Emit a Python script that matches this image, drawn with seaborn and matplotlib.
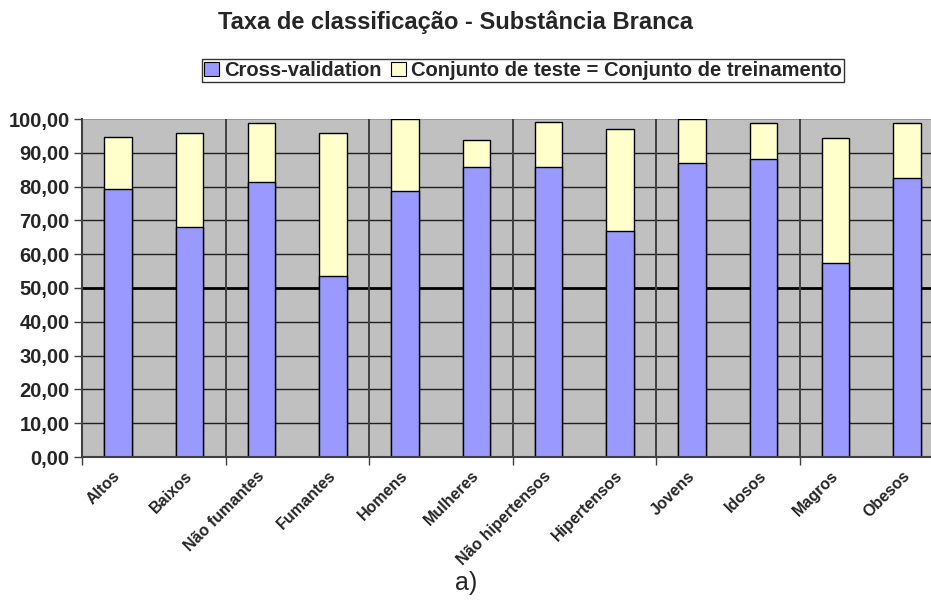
import matplotlib
matplotlib.use("Agg")
import matplotlib.pyplot as plt
import matplotlib.transforms as mtransforms
from matplotlib.patches import Patch
from matplotlib.ticker import FuncFormatter, FixedLocator
import seaborn as sns
import pandas as pd
import numpy as np

# Classification rate per group (white matter)
grupos = ["Altos", "Baixos", "Não fumantes", "Fumantes", "Homens", "Mulheres",
          "Não hipertensos", "Hipertensos", "Jovens", "Idosos", "Magros", "Obesos"]
cross_validation = [79.3, 67.9, 81.3, 53.6, 78.8, 85.9, 85.9, 66.9, 86.9, 88.1, 57.3, 82.6]
# additional rate when the test set equals the training set (stacked segment)
teste_igual_treino = [15.3, 27.9, 17.5, 42.2, 21.2, 8.0, 13.1, 30.1, 13.1, 10.6, 37.0, 16.1]

df = pd.DataFrame({
    "grupo": grupos,
    "cv": cross_validation,
    "total": np.array(cross_validation) + np.array(teste_igual_treino),
})

sns.set_theme(style="white")
plt.rcParams["font.family"] = ["Liberation Sans", "DejaVu Sans"]

AZUL = "#9999FF"
AMARELO = "#FFFFCC"
FUNDO = "#C0C0C0"

fig = plt.figure(figsize=(9.31, 6.01), dpi=100)
W, H = 931, 601
left, right, top, bottom = 82, 943, 119, 457
ax = fig.add_axes([left / W, 1 - bottom / H, (right - left) / W, (bottom - top) / H])
ax.set_facecolor(FUNDO)

# horizontal gridlines
for v in range(10, 100, 10):
    ax.axhline(v, color="#202020" if v != 50 else "black",
               lw=1.0 if v != 50 else 2.0, zorder=0.5)
ax.axhline(100, color="#909090", lw=1.2, zorder=0.5)
# vertical separators between pairs of groups
for xb in range(2, len(grupos), 2):
    ax.axvline(xb - 0.5, color="#404040", lw=1.4, zorder=0.5)

# stacked bars: total first, cross-validation drawn over it
sns.barplot(data=df, x="grupo", y="total", color=AMARELO, saturation=1,
            width=0.38, edgecolor="black", linewidth=1.0, ax=ax, zorder=2)
sns.barplot(data=df, x="grupo", y="cv", color=AZUL, saturation=1,
            width=0.38, edgecolor="black", linewidth=1.0, ax=ax, zorder=3)

ax.set_xlim(-0.5, len(grupos) - 0.5)
ax.set_ylim(0, 100)
ax.set_xlabel("")
ax.set_ylabel("")

ax.yaxis.set_major_locator(FixedLocator(np.arange(0, 101, 10)))
ax.yaxis.set_major_formatter(FuncFormatter(lambda v, _: f"{v:.2f}".replace(".", ",")))
ax.tick_params(axis="y", which="major", direction="out", length=6, width=1,
               color="#404040", labelsize=14.5, pad=3, left=True)
for lbl in ax.get_yticklabels():
    lbl.set_fontweight("bold")

# category labels, rotated
ax.set_xticks(range(len(grupos)))
ax.set_xticklabels(grupos, rotation=45, ha="right", rotation_mode="anchor",
                   fontsize=11.5, fontweight="bold")
ax.tick_params(axis="x", which="major", length=0, pad=8)
shift = mtransforms.ScaledTranslation(-5 / 100, 0, fig.dpi_scale_trans)
for lbl in ax.get_xticklabels():
    lbl.set_transform(lbl.get_transform() + shift)
ax.set_xticks(np.arange(-0.5, len(grupos), 2), minor=True)
ax.tick_params(axis="x", which="minor", direction="out", length=6, width=1,
               color="#404040", bottom=True)

for s in ["top", "right"]:
    ax.spines[s].set_visible(False)
for s in ["left", "bottom"]:
    ax.spines[s].set_color("#404040")
    ax.spines[s].set_linewidth(1.5)
    ax.spines[s].set_zorder(4)

fig.text(456 / W, 1 - 22 / H, "Taxa de classificação - Substância Branca",
         ha="center", va="center", fontsize=17, fontweight="bold")

handles = [Patch(facecolor=AZUL, edgecolor="black", lw=0.8, label="Cross-validation"),
           Patch(facecolor=AMARELO, edgecolor="black", lw=0.8,
                 label="Conjunto de teste = Conjunto de treinamento")]
leg = fig.legend(handles=handles, loc="center", ncol=2,
                 bbox_to_anchor=(523 / W, 1 - 70.5 / H),
                 frameon=True, fancybox=False, edgecolor="black",
                 prop={"weight": "bold", "size": 14.5},
                 handlelength=0.75, handleheight=0.75, handletextpad=0.25,
                 columnspacing=0.5, borderpad=0.1, borderaxespad=0)
leg.get_frame().set_linewidth(1.0)

fig.text(466 / W, 1 - 583 / H, "a)", ha="center", va="center", fontsize=18)

fig.savefig("out.png", dpi=100)
